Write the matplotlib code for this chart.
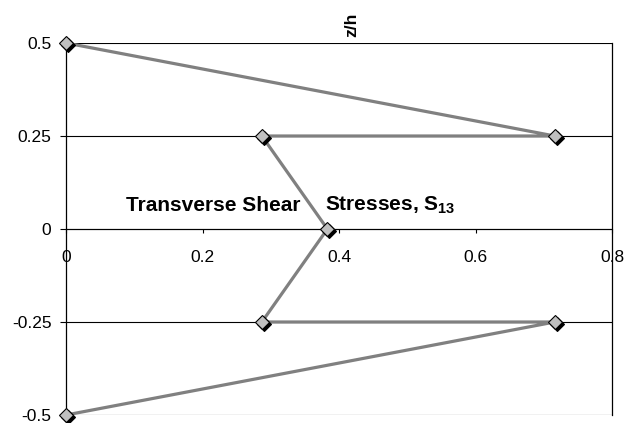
import matplotlib
matplotlib.use("Agg")
import matplotlib.pyplot as plt
import matplotlib.transforms as mtransforms

plt.rcParams['font.family'] = ['Liberation Sans', 'DejaVu Sans']
plt.rcParams['mathtext.fontset'] = 'custom'
plt.rcParams['mathtext.rm'] = 'Liberation Sans'
plt.rcParams['mathtext.bf'] = 'Liberation Sans:bold'

# Data
stress = [0.0, 0.716, 0.287, 0.383, 0.287, 0.716, 0.0]
z_over_h = [0.5, 0.25, 0.25, 0.0, -0.25, -0.25, -0.5]
x_ticks = [0, 0.2, 0.4, 0.6, 0.8]
x_tick_labels = ["0", "0.2", "0.4", "0.6", "0.8"]
y_ticks = [-0.5, -0.25, 0, 0.25, 0.5]
y_tick_labels = ["-0.5", "-0.25", "0", "0.25", "0.5"]

fig = plt.figure(figsize=(6.24, 4.23), dpi=100)
ax = fig.add_axes([66/624, 1-415/423, (612-66)/624, (415-43)/423])
ax.set_xlim(0, 0.8)
ax.set_ylim(-0.5, 0.5)

ax.spines['top'].set_visible(False)
ax.spines['bottom'].set_position(('data', 0))
ax.spines['bottom'].set_linewidth(0.8)
ax.spines['left'].set_linewidth(0.9)
ax.spines['right'].set_linewidth(0.9)

for y in y_ticks:
    ax.axhline(y, color='black', lw=0.8, zorder=1)

ax.plot(stress, z_over_h, color='#808080', lw=2.3, zorder=3, solid_capstyle='butt')
shadow = ax.transData + mtransforms.ScaledTranslation(2/100, -2/100, fig.dpi_scale_trans)
ax.plot(stress, z_over_h, ls='none', marker='D', ms=7.2, mfc='black', mec='black', mew=0.8,
        transform=shadow, zorder=4, clip_on=False)
ax.plot(stress, z_over_h, ls='none', marker='D', ms=7.2, mfc='#C0C0C0', mec='black', mew=0.8,
        zorder=5, clip_on=False)

ax.set_yticks(y_ticks)
ax.set_yticklabels(y_tick_labels)
ax.set_xticks(x_ticks)
ax.set_xticklabels(x_tick_labels)
ax.tick_params(axis='y', direction='out', length=4, width=0.8, pad=6.5, labelsize=12.5)
ax.tick_params(axis='x', direction='out', length=3, width=0.8, pad=12, labelsize=12.5)

ax.text(0.343, 0.0645, "Transverse Shear", ha='right', va='center', fontsize=15, fontweight='bold')
ax.text(0.3795, 0.0645, r"Stresses, S$_{\mathbf{13}}$", ha='left', va='center', fontsize=15, fontweight='bold')

fig.text(352/624, 1-25/423, "z/h", rotation=90, ha='center', va='center', fontsize=12.5, fontweight='bold')

fig.savefig("out.png", dpi=100)
